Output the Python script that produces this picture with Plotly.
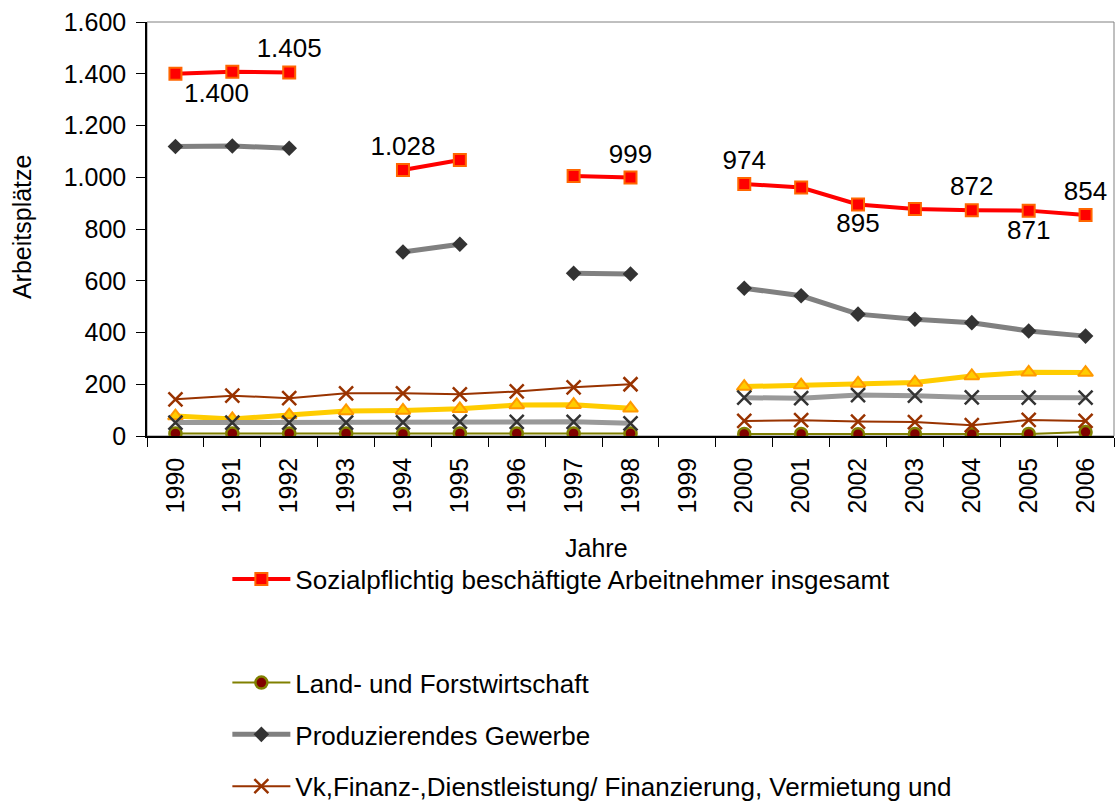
import plotly.graph_objects as go

# categories (Jahre)
years = [str(y) for y in range(1990, 2007)]

# series values (None = no data)
total = [1400, 1408, 1405, None, 1028, 1067, None, 1005, 999, None,
         974, 960, 895, 877, 872, 871, 854]
land = [10, 10, 10, 10, 8, 10, 10, 10, 10, None, 8, 8, 7, 8, 7, 8, 15]
produz = [1119, 1121, 1112, None, 711, 741, None, 629, 626, None,
          571, 542, 471, 451, 438, 406, 386]
vk = [142, 156, 146, 165, 165, 161, 172, 188, 200, None,
      58, 61, 56, 54, 42, 62, 58]
handel = [77, 66, 81, 97, 99, 105, 120, 121, 107, None,
          191, 197, 203, 207, 232, 246, 245]
dienst = [52, 52, 52, 52, 53, 56, 55, 55, 49, None,
          148, 146, 158, 156, 149, 148, 148]

# which points of the total series carry a value label, and where
label_pos = {"1990": "bottom right", "1992": "top center", "1994": "top center",
             "1998": "top center", "2000": "top center", "2002": "bottom center",
             "2004": "top center", "2005": "bottom center", "2006": "top center"}

FONT = "Arial, Liberation Sans, sans-serif"


def de_num(v):
    return f"{v:,}".replace(",", ".")


total_text = [de_num(v) if y in label_pos and v is not None else "" for y, v in zip(years, total)]
total_textpos = [label_pos.get(y, "top center") for y in years]

fig = go.Figure()

fig.add_trace(go.Scatter(
    x=years, y=total, name="Sozialpflichtig beschäftigte Arbeitnehmer insgesamt",
    mode="lines+markers+text", text=total_text, textposition=total_textpos,
    textfont=dict(size=26, color="black", family=FONT),
    line=dict(color="#FF0000", width=4),
    marker=dict(symbol="square", size=12, color="#FF0000", line=dict(color="#FF6600", width=2)),
    legendgroup="g1",
))

# empty legend slot (blank row in the original legend)
fig.add_trace(go.Scatter(
    x=[None], y=[None], name=" ", mode="lines",
    line=dict(color="rgba(0,0,0,0)", width=1), legendgroup="g2", hoverinfo="skip",
))

fig.add_trace(go.Scatter(
    x=years, y=land, name="Land- und Forstwirtschaft", mode="lines+markers",
    line=dict(color="#808000", width=2),
    marker=dict(symbol="circle", size=12, color="#800000", line=dict(color="#808000", width=2.5)),
    legendgroup="g3",
))

fig.add_trace(go.Scatter(
    x=years, y=produz, name="Produzierendes Gewerbe", mode="lines+markers",
    line=dict(color="#808080", width=5),
    marker=dict(symbol="diamond", size=12, color="#333333"),
    legendgroup="g4",
))

fig.add_trace(go.Scatter(
    x=years, y=vk, name="Vk,Finanz-,Dienstleistung/ Finanzierung, Vermietung und",
    mode="lines+markers",
    line=dict(color="#993300", width=2),
    marker=dict(symbol="x-thin", size=14, color="#993300", line=dict(color="#993300", width=2.5)),
    legendgroup="g5",
))

fig.add_trace(go.Scatter(
    x=years, y=handel, name="Handel, Gastgewerbe und Verkehr", mode="lines+markers",
    line=dict(color="#FFCC00", width=5),
    marker=dict(symbol="triangle-up", size=13, color="#FFCC00", line=dict(color="#FF9900", width=2)),
    legendgroup="g6",
))

fig.add_trace(go.Scatter(
    x=years, y=dienst, name="Öffentliche und private Dienstleister", mode="lines+markers",
    line=dict(color="#999999", width=5),
    marker=dict(symbol="x-thin", size=14, color="#333333", line=dict(color="#333333", width=2.5)),
    legendgroup="g7",
))

fig.update_layout(
    width=1120, height=804,
    margin=dict(l=147, r=6, t=22, b=368, autoexpand=False),
    paper_bgcolor="white", plot_bgcolor="white",
    font=dict(family=FONT, size=25, color="black"),
    separators=",.",
    showlegend=True,
    legend=dict(
        xref="container", yref="container",
        x=0.203, y=0.309, xanchor="left", yanchor="top",
        traceorder="grouped", tracegroupgap=15, itemwidth=58,
        font=dict(size=26, family=FONT, color="black"),
        bgcolor="rgba(0,0,0,0)", borderwidth=0,
    ),
    shapes=[dict(type="rect", xref="paper", yref="paper", x0=0, y0=0, x1=1, y1=1,
                 line=dict(color="#808080", width=1), layer="below")],
    annotations=[
        dict(text="Jahre", xref="paper", yref="paper", x=0.465, y=-0.27,
             xanchor="center", yanchor="middle", showarrow=False,
             font=dict(size=25, family=FONT, color="black")),
        dict(text="Arbeitsplätze", xref="paper", yref="paper", x=-0.1293, y=0.507,
             xanchor="center", yanchor="middle", textangle=-90, showarrow=False,
             font=dict(size=25, family=FONT, color="black")),
    ],
)

fig.update_xaxes(
    type="category", range=[-0.5, 16.5], showline=True, linecolor="black", linewidth=1.5,
    ticks="outside", tickson="boundaries", ticklen=9, tickcolor="black",
    tickangle=-90, showgrid=False, ticklabelstandoff=10,
    tickfont=dict(size=25),
)

fig.update_yaxes(
    range=[0, 1600], dtick=200, tickformat=",d",
    showline=True, linecolor="black", linewidth=1.5,
    ticks="outside", ticklen=9, tickcolor="black", showgrid=False, zeroline=False,
    ticklabelstandoff=5, tickfont=dict(size=25),
)

# page body has a default 8px margin; drop it so the figure sits at the window origin
fig.write_html("out.html", config={"displayModeBar": False},
               post_script="document.body.style.margin='0';")
